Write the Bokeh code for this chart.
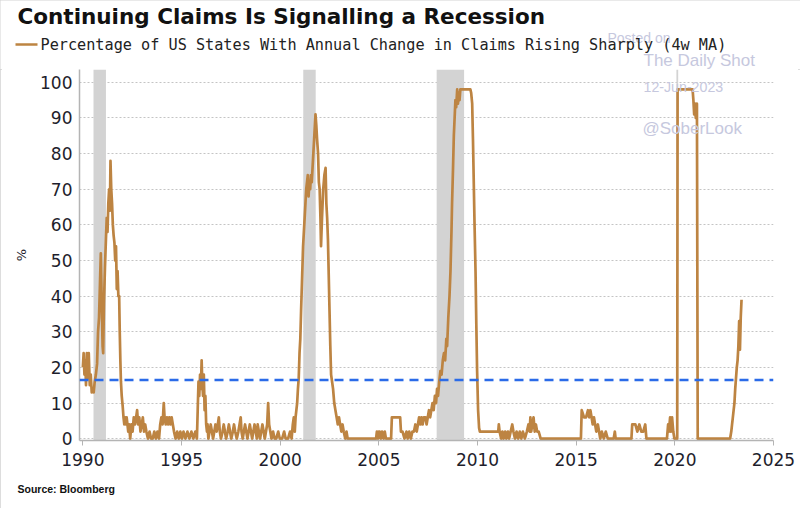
from bokeh.plotting import figure
from bokeh.layouts import column
from bokeh.models import Range1d, Span, BoxAnnotation, Label, FixedTicker, Title
from bokeh.embed import file_html
from bokeh.resources import INLINE

# ---------------- data ----------------
dates = [
    1990.00, 1990.04, 1990.08, 1990.12, 1990.16, 1990.20, 1990.25, 1990.30, 1990.35, 1990.40,
    1990.45, 1990.50, 1990.55, 1990.60, 1990.66, 1990.72, 1990.77, 1990.82, 1990.87, 1990.91,
    1990.95, 1991.00, 1991.03, 1991.07, 1991.12, 1991.17, 1991.21, 1991.25, 1991.29, 1991.33,
    1991.37, 1991.40, 1991.44, 1991.48, 1991.52, 1991.56, 1991.60, 1991.64, 1991.68, 1991.72,
    1991.76, 1991.80, 1991.84, 1991.87, 1991.90, 1991.93, 1991.97, 1992.02, 1992.06, 1992.10,
    1992.14, 1992.18, 1992.22, 1992.26, 1992.30, 1992.34, 1992.40, 1992.46, 1992.52, 1992.58,
    1992.64, 1992.70, 1992.75, 1992.80, 1992.86, 1992.92, 1992.98, 1993.04, 1993.10, 1993.16,
    1993.22, 1993.30, 1993.38, 1993.46, 1993.54, 1993.62, 1993.70, 1993.78, 1993.86, 1993.92,
    1993.98, 1994.04, 1994.10, 1994.14, 1994.20, 1994.26, 1994.32, 1994.38, 1994.44, 1994.50,
    1994.56, 1994.62, 1994.70, 1994.78, 1994.86, 1994.94, 1995.02, 1995.10, 1995.20, 1995.30,
    1995.40, 1995.50, 1995.60, 1995.70, 1995.78, 1995.82, 1995.86, 1995.90, 1995.94, 1995.98,
    1996.02, 1996.05, 1996.09, 1996.13, 1996.17, 1996.21, 1996.25, 1996.29, 1996.32, 1996.36,
    1996.42, 1996.48, 1996.54, 1996.60, 1996.66, 1996.72, 1996.78, 1996.84, 1996.89, 1996.94,
    1997.00, 1997.08, 1997.14, 1997.20, 1997.26, 1997.34, 1997.40, 1997.46, 1997.52, 1997.60,
    1997.66, 1997.72, 1997.80, 1997.88, 1997.94, 1998.00, 1998.04, 1998.10, 1998.16, 1998.22,
    1998.28, 1998.34, 1998.40, 1998.46, 1998.52, 1998.58, 1998.64, 1998.70, 1998.76, 1998.82,
    1998.86, 1998.92, 1998.98, 1999.04, 1999.10, 1999.16, 1999.22, 1999.28, 1999.34, 1999.39,
    1999.44, 1999.50, 1999.56, 1999.64, 1999.72, 1999.80, 1999.90, 1999.98, 2000.10, 2000.20,
    2000.28, 2000.40, 2000.50, 2000.58, 2000.64, 2000.69, 2000.74, 2000.78, 2000.82, 2000.86,
    2000.90, 2000.94, 2000.98, 2001.02, 2001.06, 2001.11, 2001.16, 2001.22, 2001.28, 2001.32,
    2001.36, 2001.40, 2001.44, 2001.48, 2001.52, 2001.56, 2001.60, 2001.64, 2001.68, 2001.72,
    2001.76, 2001.79, 2001.83, 2001.87, 2001.92, 2001.96, 2002.00, 2002.04, 2002.07, 2002.12,
    2002.18, 2002.24, 2002.30, 2002.34, 2002.38, 2002.42, 2002.46, 2002.50, 2002.54, 2002.58,
    2002.63, 2002.68, 2002.74, 2002.80, 2002.86, 2002.92, 2002.98, 2003.04, 2003.10, 2003.16,
    2003.22, 2003.30, 2003.36, 2003.42, 2003.50, 2004.00, 2004.50, 2004.86, 2004.90, 2004.96,
    2005.00, 2005.04, 2005.10, 2005.16, 2005.24, 2005.30, 2005.36, 2005.62, 2005.66, 2006.08,
    2006.12, 2006.20, 2006.30, 2006.40, 2006.46, 2006.54, 2006.62, 2006.70, 2006.78, 2006.85,
    2006.92, 2006.98, 2007.04, 2007.10, 2007.16, 2007.22, 2007.28, 2007.36, 2007.42, 2007.48,
    2007.54, 2007.60, 2007.66, 2007.72, 2007.78, 2007.84, 2007.90, 2007.95, 2008.00, 2008.06,
    2008.12, 2008.18, 2008.24, 2008.30, 2008.36, 2008.42, 2008.46, 2008.52, 2008.58, 2008.63,
    2008.68, 2008.71, 2008.76, 2008.80, 2008.84, 2008.88, 2008.92, 2008.97, 2009.01, 2009.05,
    2009.09, 2009.13, 2009.64, 2009.68, 2009.73, 2009.77, 2009.80, 2009.85, 2009.90, 2009.94,
    2009.98, 2010.03, 2010.08, 2010.12, 2011.05, 2011.08, 2011.12, 2011.20, 2011.26, 2011.32,
    2011.40, 2011.46, 2011.54, 2011.60, 2011.68, 2011.76, 2011.82, 2011.90, 2011.98, 2012.06,
    2012.14, 2012.22, 2012.30, 2012.40, 2012.50, 2012.58, 2012.64, 2012.68, 2012.72, 2012.78,
    2012.84, 2012.90, 2012.96, 2013.02, 2013.10, 2013.20, 2015.24, 2015.28, 2015.40, 2015.50,
    2015.60, 2015.66, 2015.72, 2015.78, 2015.84, 2015.90, 2015.96, 2016.02, 2016.10, 2016.16,
    2016.22, 2016.30, 2016.40, 2016.50, 2016.60, 2016.90, 2016.96, 2017.00, 2017.80, 2017.84,
    2018.00, 2018.10, 2018.20, 2018.30, 2018.40, 2018.50, 2018.56, 2019.60, 2019.66, 2019.70,
    2019.76, 2019.80, 2019.86, 2019.92, 2019.98, 2020.12, 2020.14, 2020.90, 2020.94, 2020.98,
    2021.02, 2021.06, 2021.12, 2021.16, 2022.80, 2022.86, 2022.90, 2022.94, 2022.98, 2023.02,
    2023.06, 2023.10, 2023.14, 2023.18, 2023.22, 2023.26, 2023.30, 2023.34, 2023.38,
]
pct = [
    20, 24, 18, 22, 15, 24, 17, 24, 15, 18,
    13, 14, 13, 16, 18, 21, 30, 34, 44, 52,
    40, 26, 24, 38, 48, 56, 62, 58, 66, 70,
    64, 78, 70, 66, 60, 57, 55, 50, 54, 42,
    47, 40, 40, 30, 22, 16, 12, 9, 6, 4,
    6, 4, 6, 4, 2, 4, 0, 4, 2, 6,
    4, 6, 8, 4, 6, 2, 4, 6, 2, 4,
    2, 0, 2, 0, 0, 2, 0, 2, 0, 4,
    6, 4, 10, 6, 4, 6, 4, 6, 4, 6,
    4, 2, 0, 2, 0, 2, 0, 2, 0, 2,
    0, 2, 0, 2, 0, 8, 16, 12, 18, 14,
    22, 16, 12, 18, 8, 12, 4, 2, 4, 0,
    2, 4, 2, 0, 2, 4, 2, 4, 6, 2,
    0, 2, 4, 2, 0, 2, 4, 2, 0, 2,
    4, 2, 0, 2, 4, 6, 2, 0, 2, 4,
    2, 0, 2, 4, 2, 0, 2, 4, 2, 0,
    4, 2, 0, 2, 4, 2, 0, 2, 4, 10,
    4, 2, 0, 2, 0, 0, 2, 0, 0, 2,
    0, 0, 2, 0, 4, 6, 2, 6, 8, 10,
    14, 17, 24, 28, 36, 45, 54, 60, 66, 70,
    72, 74, 68, 72, 70, 74, 72, 76, 80, 84,
    88, 91, 88, 84, 80, 72, 70, 62, 54, 62,
    70, 74, 76, 66, 62, 56, 46, 36, 26, 18,
    16, 14, 10, 8, 6, 4, 6, 4, 2, 4,
    2, 0, 2, 0, 0, 0, 0, 0, 2, 0,
    2, 2, 0, 2, 0, 2, 0, 0, 6, 6,
    2, 2, 0, 2, 0, 2, 0, 2, 2, 4,
    2, 4, 6, 4, 6, 4, 6, 6, 4, 6,
    8, 6, 8, 10, 8, 12, 10, 14, 12, 16,
    19, 18, 22, 24, 22, 28, 26, 34, 40, 47,
    58, 66, 76, 85, 90, 95, 93, 98, 94, 97,
    95, 98, 98, 97, 94, 84, 75, 60, 47, 32,
    19, 8, 3, 2, 2, 4, 2, 0, 2, 0,
    2, 0, 2, 0, 2, 4, 2, 0, 2, 0,
    2, 0, 2, 0, 2, 4, 2, 6, 2, 4,
    6, 2, 4, 2, 2, 0, 0, 8, 6, 6,
    8, 6, 8, 6, 4, 6, 4, 2, 4, 2,
    0, 2, 0, 2, 0, 0, 2, 0, 0, 4,
    4, 2, 4, 2, 2, 4, 0, 0, 4, 2,
    6, 2, 6, 2, 0, 0, 98, 98, 95, 91,
    94, 90, 94, 0, 0, 2, 4, 6, 8, 10,
    14, 17, 20, 22, 26, 33, 25, 34, 39,
]

recession_start = [1990.54, 2001.17, 2007.93, 2020.08]
recession_end = [1991.17, 2001.80, 2009.32, 2020.17]
threshold = 16.5
x_ticks = [1990, 1995, 2000, 2005, 2010, 2015, 2020, 2025]
y_ticks = [0, 10, 20, 30, 40, 50, 60, 70, 80, 90, 100]

title_text = "Continuing Claims Is Signalling a Recession"
legend_text = "Percentage of US States With Annual Change in Claims Rising Sharply (4w MA)"
source_text = "Source: Bloomberg"

# ---------------- layout geometry (pixels) ----------------
W, H = 800, 508
HDR = 69                     # header strip height (title + legend)
FL, FR, FB = 79, 27, 68      # main plot borders
MH = H - HDR
FH = MH - FB
X0, X1 = 1989.83, 2025.0
Y0, Y1 = -0.5, 103.6
FW = W - FL - FR

BROWN = "#BD8442"
TXT = "#1E1E2C"
WM = "#C6C8DE"


def dx(px):
    return X0 + (px - FL) * (X1 - X0) / FW


def dy(py):
    return Y1 - (py - HDR) * (Y1 - Y0) / FH


# ---------------- header strip ----------------
hdr = figure(width=W, height=HDR, output_backend="svg", toolbar_location=None,
             x_range=Range1d(0, W), y_range=Range1d(HDR, 0),
             x_axis_type=None, y_axis_type=None,
             min_border=0, min_border_left=0, min_border_right=0,
             min_border_top=0, min_border_bottom=0)
hdr.frame_align = False
hdr.outline_line_color = None
hdr.grid.visible = False
hdr.background_fill_color = "white"
hdr.border_fill_color = "white"

for txt, px, py, fs in [("Posted on", 607, 37, "14px"), ("The Daily Shot", 643, 60, "17px")]:
    hdr.add_layout(Label(x=px, y=py, text=txt, text_font="Liberation Sans", text_font_size=fs,
                         text_color=WM, text_baseline="middle", text_align="left"))
hdr.add_layout(Label(x=17, y=16, text=title_text, text_font="DejaVu Sans",
                     text_font_style="bold", text_font_size="21.5px", text_color="#111111",
                     text_baseline="middle", text_align="left"))
hdr.segment(x0=[15], y0=[44], x1=[37], y1=[44], line_color=BROWN, line_width=2.5)
hdr.add_layout(Label(x=40, y=44, text=legend_text, text_font="DejaVu Sans Mono",
                     text_font_size="15.2px", text_color="#222222",
                     text_baseline="middle", text_align="left"))

# ---------------- main chart ----------------
p = figure(width=W, height=MH, output_backend="svg", toolbar_location=None,
           x_range=Range1d(X0, X1), y_range=Range1d(Y0, Y1),
           min_border_left=FL, min_border_right=FR, min_border_top=0, min_border_bottom=FB)
p.frame_align = False
p.outline_line_color = None
p.background_fill_color = "white"
p.border_fill_color = "white"

for s, e in zip(recession_start, recession_end):
    p.add_layout(BoxAnnotation(left=s, right=e, fill_color="#D3D3D3", fill_alpha=1.0,
                               line_color=None, level="underlay"))

p.xgrid.grid_line_color = None
p.ygrid.grid_line_color = "#C4C4C4"
p.ygrid.grid_line_dash = "2 2"
p.ygrid.grid_line_width = 1.2
p.ygrid.ticker = FixedTicker(ticks=y_ticks)

p.xaxis.ticker = FixedTicker(ticks=x_ticks)
p.yaxis.ticker = FixedTicker(ticks=y_ticks)
for ax in (p.xaxis[0], p.yaxis[0]):
    ax.axis_line_color = "#B4B4B4"
    ax.axis_line_width = 1.5
    ax.major_label_text_font = "DejaVu Sans"
    ax.major_label_text_font_size = "17px"
    ax.major_label_text_color = TXT
    ax.minor_tick_line_color = None
p.xaxis.major_tick_line_color = "#B4B4B4"
p.xaxis.major_tick_out = 5
p.xaxis.major_tick_in = 0
p.xaxis.major_label_standoff = 7
p.yaxis.major_tick_line_color = None
p.yaxis.major_tick_out = 0
p.yaxis.major_tick_in = 0
p.yaxis.major_label_standoff = 7
p.yaxis.axis_label = "%"
p.yaxis.axis_label_text_font = "DejaVu Sans"
p.yaxis.axis_label_text_font_style = "normal"
p.yaxis.axis_label_text_font_size = "13px"
p.yaxis.axis_label_text_color = TXT
p.yaxis.axis_label_standoff = 8

p.add_layout(Span(location=threshold, dimension="width", line_color="#2B6BE8",
                  line_width=2.5, line_dash="9 6"))

p.line(dates, pct, line_color=BROWN, line_width=2.7, line_join="round")

for txt, px, py, fs in [("12-Jun-2023", 643, 86, "14.2px"), ("@SoberLook", 642, 128, "17px")]:
    p.add_layout(Label(x=dx(px), y=dy(py), text=txt, text_font="Liberation Sans",
                       text_font_size=fs, text_color=WM, text_baseline="middle", text_align="left"))

p.add_layout(Title(text=source_text, align="left", offset=17 - FL,
                   text_font="Liberation Sans",
                   text_font_style="bold", text_font_size="10.5px", text_color="#111111",
                   standoff=24), "below")

layout = column(hdr, p, spacing=0,
                styles={"outline": "2px solid #d2d2d2", "outline-offset": "-2px"})

open("out.html", "w").write(file_html(layout, INLINE))
